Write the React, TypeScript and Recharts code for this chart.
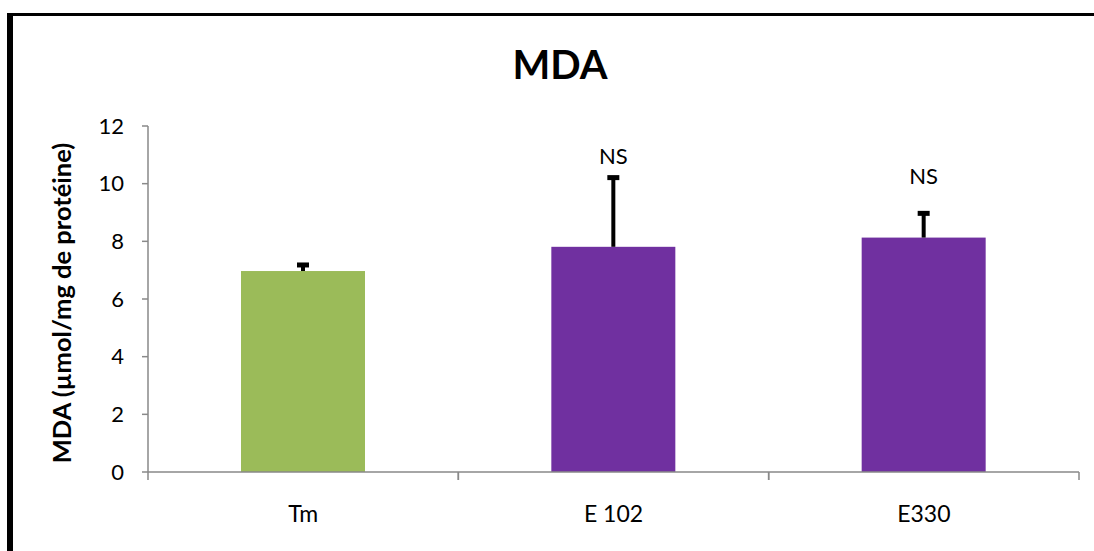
import { Bar, BarChart, Cell, XAxis, YAxis } from 'recharts'

const GROUPS = ['Tm', 'E 102', 'E330']
const MEANS = [6.97, 7.81, 8.13]
const ERRORS = [0.21, 2.4, 0.84]
const SIGNIF = ['', 'NS', 'NS']
// height (in y units) at which each significance mark sits
const SIGNIF_AT = [0, 10.95, 10.25]
const Y_TICKS = [0, 2, 4, 6, 8, 10, 12]

const BAR_COLORS = ['#9bbb59', '#7030a0', '#7030a0']
const AXIS_COLOR = '#898989'
const FONT = 'Lato, "Open Sans", sans-serif'

const rows = GROUPS.map((group, idx) => ({
  group,
  mean: MEANS[idx],
  err: ERRORS[idx],
  signif: SIGNIF[idx],
  signifAt: SIGNIF_AT[idx],
}))

// bar + upper-only error whisker + significance mark
function BarWithError(props: any) {
  const { x, y, width, height, fill, payload } = props
  const pxPerUnit = height / payload.mean
  const base = y + height
  const cx = x + width / 2
  const yErr = y - payload.err * pxPerUnit
  return (
    <g>
      <rect x={x} y={y} width={width} height={height} fill={fill} />
      <line x1={cx} x2={cx} y1={y} y2={yErr} stroke="#000" strokeWidth={4} />
      <line x1={cx - 6} x2={cx + 6} y1={yErr} y2={yErr} stroke="#000" strokeWidth={5} />
      {payload.signif && (
        <text
          x={cx}
          y={base - payload.signifAt * pxPerUnit}
          dy="0.36em"
          textAnchor="middle"
          fontFamily={FONT}
          fontSize={22}
          fill="#000"
        >
          {payload.signif}
        </text>
      )}
    </g>
  )
}

// category label with boundary tick marks on each side
function GroupTick(props: any) {
  const { x, y, payload, width } = props
  const half = payload.offset || width / (2 * GROUPS.length)
  return (
    <g>
      <line x1={x - half} x2={x - half} y1={y - 8} y2={y} stroke={AXIS_COLOR} strokeWidth={1.5} />
      <line x1={x + half} x2={x + half} y1={y - 8} y2={y} stroke={AXIS_COLOR} strokeWidth={1.5} />
      <text x={x} y={y + 42} textAnchor="middle" fontFamily={FONT} fontSize={23} fill="#000">
        {payload.value}
      </text>
    </g>
  )
}

function YTitle(props: any) {
  const { viewBox } = props
  const cy = viewBox.y + viewBox.height / 2 + 4
  return (
    <text
      x={71}
      y={cy}
      transform={`rotate(-90 71 ${cy})`}
      textAnchor="middle"
      fontFamily={FONT}
      fontWeight={700}
      fontSize={25.5}
      fill="#000"
    >
      MDA (µmol/mg de protéine)
    </text>
  )
}

export default function App() {
  return (
    <div
      style={{
        position: 'absolute',
        left: 0,
        top: 0,
        width: 1094,
        height: 551,
        overflow: 'hidden',
        background: '#fff',
      }}
    >
      <div
        style={{
          position: 'absolute',
          left: 7,
          top: 13,
          width: 2000,
          height: 2000,
          borderLeft: '6px solid #000',
          borderTop: '3px solid #000',
        }}
      />
      <div
        style={{
          position: 'absolute',
          left: 0,
          width: 1120,
          top: 38,
          textAlign: 'center',
          fontFamily: FONT,
          fontWeight: 700,
          fontSize: 40,
          lineHeight: '52px',
        }}
      >
        MDA
      </div>
      <div style={{ position: 'absolute', left: 0, top: 0 }}>
        <BarChart
          width={1094}
          height={551}
          data={rows}
          margin={{ top: 126, right: 15, bottom: 39, left: 68 }}
        >
          <XAxis
            dataKey="group"
            height={40}
            axisLine={{ stroke: AXIS_COLOR, strokeWidth: 1.5 }}
            tickLine={false}
            tickSize={8}
            tickMargin={0}
            tick={<GroupTick />}
            interval={0}
          />
          <YAxis
            width={80}
            domain={[0, 12]}
            ticks={Y_TICKS}
            interval={0}
            axisLine={{ stroke: AXIS_COLOR, strokeWidth: 1.5 }}
            tickLine={{ stroke: AXIS_COLOR, strokeWidth: 1.5 }}
            tickSize={6}
            tickMargin={18}
            tick={{ fill: '#000', fontSize: 22, fontFamily: FONT }}
            label={<YTitle />}
          />
          <Bar dataKey="mean" barSize={124} shape={<BarWithError />} isAnimationActive={false}>
            {rows.map((row, idx) => (
              <Cell key={row.group} fill={BAR_COLORS[idx]} />
            ))}
          </Bar>
        </BarChart>
      </div>
    </div>
  )
}
